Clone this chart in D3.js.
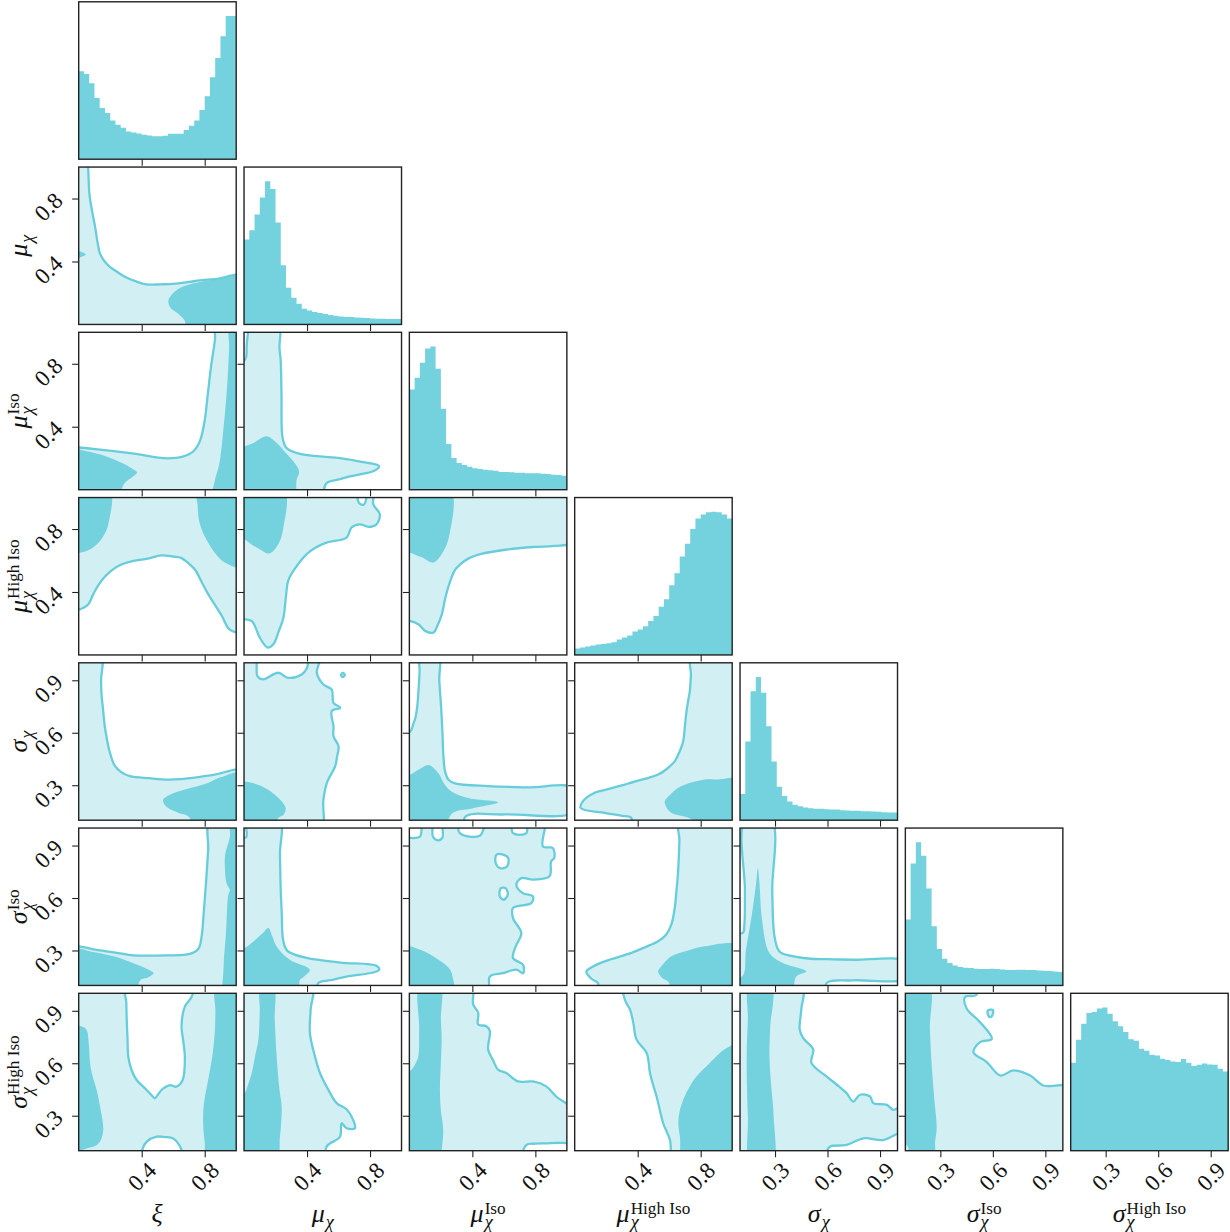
<!DOCTYPE html>
<html>
<head>
<meta charset="utf-8">
<script src="https://cdn.jsdelivr.net/npm/d3@7"></script>
<style>
  body { margin: 0; background: #fff; }
  text { font-family: "Liberation Serif", "DejaVu Serif", serif; fill: #111; }
</style>
</head>
<body>
<svg id="chart" width="1230" height="1232"></svg>
<script>
// parameters, in corner order
const labelSym = ["ξ", "μ", "μ", "μ", "σ", "σ", "σ"];
const labelSub = ["", "χ", "χ", "χ", "χ", "χ", "χ"];
const labelSup = ["", "", "Iso", "High Iso", "", "Iso", "High Iso"];
const domLo = [0, 0, 0, 0, 0.1, 0.1, 0.1];
const domHi = [1, 1, 1, 1, 1, 1, 1];
const ticksMu = [0.4, 0.8];
const ticksSig = [0.3, 0.6, 0.9];

// 1D histograms, 30 bins over each domain (relative counts)
const hXi = [263,255,227,183,153,138,116,103,94,83,80,77,73,71,69,69,70,76,76,76,87,100,116,147,188,245,303,368,428,428];
const hMu = [254,282,329,380,428,405,305,177,110,80,62,47,42,37,34,31,28,26,24,22,22,21,20,19,18,17,17,16,16,16];
const hMuIso = [300,335,380,422,428,362,242,137,95,80,74,69,64,62,60,58,57,53,53,52,51,51,49,49,49,48,47,45,44,42];
const hMuHi = [19,22,25,28,31,33,35,38,46,52,58,70,76,86,101,116,144,166,208,244,294,332,376,407,419,426,427,426,419,407];
const hSig = [78,235,385,427,380,280,175,100,72,56,46,42,38,36,34,34,33,32,32,30,29,28,28,27,27,26,25,24,23,23];
const hSigIso = [197,365,428,388,290,177,109,80,67,60,55,53,52,50,49,49,50,49,48,46,46,47,47,46,46,45,44,43,42,40];
const hSigHi = [263,332,380,412,415,425,428,410,387,372,355,333,329,305,299,287,285,275,271,267,265,274,263,253,257,261,258,257,245,237];

// 2D credible regions, rings of [x, y] in data units (light = outer level, dark = inner level)
const xiMuLight = [[[-0.05,1.05],[0.057,1.05],[0.06,1.0],[0.068,0.83],[0.085,0.72],[0.104,0.62],[0.12,0.52],[0.135,0.45],[0.165,0.40],[0.2,0.364],[0.25,0.33],[0.30,0.30],[0.36,0.275],[0.43,0.254],[0.52,0.255],[0.60,0.258],[0.70,0.27],[0.77,0.28],[0.88,0.29],[1.05,0.305],[1.05,-0.05],[-0.05,-0.05]]];
const xiMuDark = [[[1.05,0.30],[0.9,0.29],[0.75,0.265],[0.66,0.24],[0.6,0.2],[0.57,0.155],[0.58,0.11],[0.63,0.07],[0.67,0.03],[0.70,-0.05],[1.05,-0.05]],
  [[-0.02,0.47],[0.03,0.455],[0.045,0.445],[0.03,0.435],[-0.02,0.425]]];

const xiMuIsoLight = [[[-0.05,0.27],[0.0,0.268],[0.135,0.254],[0.35,0.229],[0.54,0.2],[0.66,0.21],[0.73,0.246],[0.77,0.31],[0.8,0.44],[0.82,0.61],[0.84,0.78],[0.865,0.95],[0.875,1.05],[1.05,1.05],[1.05,-0.05],[-0.05,-0.05]]];
const xiMuIsoDark = [[[-0.05,0.25],[0.05,0.245],[0.15,0.22],[0.25,0.18],[0.33,0.14],[0.37,0.11],[0.34,0.08],[0.29,0.04],[0.24,-0.05],[-0.05,-0.05]],
  [[0.96,1.05],[0.955,0.9],[0.945,0.7],[0.93,0.5],[0.92,0.4],[0.905,0.25],[0.89,0.15],[0.865,0.06],[0.855,-0.05],[1.05,-0.05],[1.05,1.05]]];

const xiMuHiLight = [[[-0.05,0.285],[0.0,0.288],[0.03,0.30],[0.06,0.32],[0.09,0.38],[0.12,0.436],[0.16,0.49],[0.2,0.53],[0.26,0.57],[0.335,0.595],[0.43,0.61],[0.525,0.633],[0.6,0.625],[0.65,0.617],[0.7,0.58],[0.74,0.54],[0.78,0.465],[0.82,0.39],[0.87,0.31],[0.91,0.246],[0.95,0.17],[0.98,0.15],[1.05,0.15],[1.05,1.05],[-0.05,1.05]]];
const xiMuHiDark = [[[-0.05,0.648],[0.0,0.648],[0.06,0.665],[0.123,0.71],[0.17,0.78],[0.19,0.84],[0.197,1.05],[-0.05,1.05]],
  [[0.754,1.05],[0.755,0.95],[0.763,0.86],[0.78,0.8],[0.8,0.754],[0.83,0.7],[0.864,0.65],[0.93,0.585],[1.05,0.56],[1.05,1.05]]];

const xiSigLight = [[[-0.05,1.05],[0.14,1.05],[0.142,0.9],[0.144,0.83],[0.155,0.73],[0.165,0.64],[0.18,0.56],[0.197,0.49],[0.23,0.41],[0.27,0.375],[0.325,0.352],[0.45,0.34],[0.568,0.332],[0.65,0.335],[0.737,0.343],[0.864,0.361],[1.05,0.38],[1.05,0.0],[-0.05,0.0]]];
const xiSigDark = [[[1.05,0.37],[0.9,0.345],[0.82,0.313],[0.674,0.275],[0.58,0.245],[0.536,0.218],[0.545,0.19],[0.568,0.17],[0.64,0.14],[0.695,0.123],[0.78,0.0],[1.05,0.0]]];

const xiSigIsoLight = [[[-0.05,0.325],[0.0,0.323],[0.135,0.3],[0.25,0.285],[0.347,0.272],[0.558,0.272],[0.706,0.28],[0.76,0.31],[0.78,0.377],[0.795,0.53],[0.808,0.683],[0.822,0.874],[0.835,1.05],[1.05,1.05],[1.05,0.0],[-0.05,0.0]]];
const xiSigIsoDark = [[[-0.05,0.305],[0.1,0.29],[0.24,0.262],[0.35,0.225],[0.43,0.196],[0.475,0.171],[0.44,0.145],[0.39,0.129],[0.347,0.0],[-0.05,0.0]],
  [[0.965,1.05],[0.96,0.95],[0.93,0.85],[0.928,0.78],[0.94,0.68],[0.96,0.645],[0.95,0.62],[0.935,0.4],[0.92,0.205],[0.928,0.0],[1.05,0.0],[1.05,1.05]]];

const xiSigHiLight = [[[-0.05,0.0],[1.05,0.0],[1.05,1.05],[-0.05,1.05]],
  [[0.30,1.03],[0.302,0.95],[0.305,0.847],[0.31,0.74],[0.315,0.637],[0.336,0.56],[0.368,0.504],[0.40,0.475],[0.431,0.447],[0.46,0.42],[0.484,0.40],[0.51,0.43],[0.537,0.456],[0.58,0.475],[0.62,0.466],[0.66,0.504],[0.674,0.637],[0.665,0.72],[0.653,0.81],[0.674,0.924],[0.717,0.98],[0.727,1.03]],
  [[0.40,0.05],[0.41,0.12],[0.431,0.151],[0.495,0.18],[0.55,0.178],[0.6,0.17],[0.64,0.13],[0.66,0.05]]];
const xiSigHiDark = [[[-0.05,0.81],[0.02,0.81],[0.05,0.79],[0.065,0.7],[0.072,0.6],[0.09,0.52],[0.114,0.447],[0.14,0.33],[0.156,0.22],[0.14,0.16],[0.11,0.13],[0.05,0.113],[0.0,0.1],[-0.05,0.1]],
  [[0.872,1.05],[0.868,0.9],[0.865,0.79],[0.85,0.65],[0.822,0.504],[0.8,0.4],[0.79,0.313],[0.792,0.22],[0.8,0.15],[0.822,0.0],[1.05,0.0],[1.05,1.05]]];

const muMuIsoLight = [[[-0.05,0.82],[0.0,0.82],[0.013,0.84],[0.017,0.92],[0.025,1.0],[0.027,1.05],[0.218,1.05],[0.225,0.9],[0.233,0.816],[0.238,0.6],[0.245,0.328],[0.27,0.265],[0.355,0.227],[0.48,0.212],[0.61,0.2],[0.73,0.18],[0.842,0.159],[0.858,0.148],[0.82,0.117],[0.75,0.1],[0.672,0.085],[0.6,0.065],[0.524,0.042],[0.48,-0.05],[-0.05,-0.05]]];
const muMuIsoDark = [[[-0.05,0.27],[0.0,0.275],[0.06,0.297],[0.144,0.339],[0.207,0.297],[0.26,0.24],[0.313,0.18],[0.35,0.117],[0.334,0.064],[0.313,-0.05],[-0.05,-0.05]]];

const muMuHiLight = [[[-0.05,0.225],[0.0,0.227],[0.049,0.216],[0.075,0.17],[0.1,0.11],[0.15,0.047],[0.186,0.068],[0.22,0.15],[0.25,0.237],[0.265,0.36],[0.28,0.47],[0.313,0.534],[0.397,0.64],[0.45,0.68],[0.524,0.714],[0.651,0.746],[0.683,0.81],[0.736,0.83],[0.79,0.814],[0.841,0.83],[0.862,0.894],[0.82,0.958],[0.816,1.05],[-0.05,1.05]],
  [[0.725,1.04],[0.73,0.965],[0.76,0.955],[0.775,0.99],[0.772,1.04]]];
const muMuHiDark = [[[-0.05,0.735],[0.0,0.735],[0.05,0.7],[0.1,0.672],[0.154,0.644],[0.186,0.66],[0.228,0.725],[0.25,0.81],[0.254,1.05],[-0.05,1.05]]];

const muSigLight = [[[-0.05,1.05],[0.078,1.05],[0.08,0.98],[0.085,0.924],[0.12,0.905],[0.217,0.943],[0.28,0.914],[0.366,0.933],[0.4,0.97],[0.419,1.05],[0.489,1.05],[0.47,0.98],[0.462,0.943],[0.504,0.876],[0.557,0.847],[0.568,0.771],[0.611,0.743],[0.557,0.724],[0.568,0.637],[0.568,0.58],[0.6,0.523],[0.59,0.46],[0.579,0.409],[0.526,0.313],[0.504,0.218],[0.479,0.0],[-0.05,0.0]],
  [[0.615,0.93],[0.628,0.942],[0.64,0.93],[0.628,0.918]]];
const muSigDark = [[[-0.05,0.325],[0.0,0.323],[0.11,0.295],[0.217,0.228],[0.264,0.17],[0.25,0.13],[0.217,0.113],[0.17,0.0],[-0.05,0.0]]];

const muSigIsoLight = [[[-0.05,0.95],[0.013,0.947],[0.02,1.05],[0.224,1.05],[0.228,0.85],[0.233,0.647],[0.24,0.5],[0.245,0.38],[0.26,0.32],[0.28,0.294],[0.397,0.257],[0.61,0.231],[0.841,0.212],[0.858,0.19],[0.82,0.174],[0.651,0.151],[0.55,0.13],[0.47,0.113],[0.465,0.0],[-0.05,0.0]]];
const muSigIsoDark = [[[-0.05,0.31],[0.0,0.313],[0.059,0.352],[0.12,0.4],[0.154,0.428],[0.18,0.38],[0.207,0.323],[0.29,0.247],[0.418,0.19],[0.38,0.15],[0.355,0.132],[0.334,0.0],[-0.05,0.0]]];

const muSigHiLight = [[[-0.05,1.05],[0.43,1.05],[0.423,0.908],[0.418,0.774],[0.45,0.64],[0.482,0.544],[0.535,0.449],[0.588,0.372],[0.651,0.337],[0.693,0.276],[0.704,0.228],[0.651,0.228],[0.62,0.257],[0.609,0.18],[0.524,0.123],[0.503,0.0],[-0.05,0.0]]];
const muSigHiDark = [[[-0.05,0.43],[0.0,0.429],[0.03,0.49],[0.049,0.544],[0.07,0.64],[0.091,0.735],[0.1,0.9],[0.106,1.05],[0.186,1.05],[0.195,0.85],[0.207,0.64],[0.225,0.45],[0.239,0.353],[0.235,0.25],[0.228,0.18],[0.197,0.0],[-0.05,0.0]]];

const muIsoMuHiLight = [[[-0.05,0.215],[0.0,0.216],[0.057,0.195],[0.1,0.153],[0.153,0.142],[0.18,0.19],[0.206,0.258],[0.23,0.37],[0.26,0.47],[0.29,0.54],[0.323,0.576],[0.38,0.615],[0.45,0.64],[0.62,0.67],[0.79,0.686],[0.919,0.693],[1.05,0.72],[1.05,1.05],[-0.05,1.05]]];
const muIsoMuHiDark = [[[-0.05,0.65],[0.0,0.65],[0.079,0.62],[0.153,0.587],[0.217,0.66],[0.255,0.767],[0.26,1.05],[-0.05,1.05]]];

const muIsoSigLight = [[[-0.05,0.6],[0.006,0.607],[0.025,0.65],[0.038,0.684],[0.05,0.75],[0.059,0.856],[0.065,0.95],[0.07,1.05],[0.185,1.05],[0.19,0.9],[0.202,0.742],[0.21,0.6],[0.217,0.455],[0.227,0.378],[0.25,0.33],[0.29,0.311],[0.5,0.295],[0.75,0.288],[1.05,0.282],[1.05,0.148],[0.606,0.133],[0.354,0.119],[0.35,0.0],[-0.05,0.0]]];
const muIsoSigDark = [[[-0.05,0.355],[0.0,0.358],[0.06,0.39],[0.122,0.416],[0.185,0.368],[0.22,0.31],[0.27,0.263],[0.38,0.225],[0.564,0.202],[0.4,0.167],[0.27,0.138],[0.206,0.0],[-0.05,0.0]]];

const muIsoSigIsoLight = [[[-0.05,0.94],[0.025,0.943],[0.068,0.952],[0.089,1.05],[0.141,1.05],[0.15,0.95],[0.18,0.93],[0.21,0.945],[0.215,1.05],[0.3,1.05],[0.32,0.971],[0.447,0.956],[0.5,1.05],[0.637,1.05],[0.658,0.971],[0.743,0.971],[0.753,1.05],[0.859,1.05],[0.848,0.895],[0.911,0.886],[0.92,0.829],[0.9,0.809],[0.89,0.724],[0.785,0.705],[0.711,0.714],[0.679,0.676],[0.72,0.628],[0.785,0.609],[0.774,0.571],[0.658,0.543],[0.658,0.485],[0.711,0.4],[0.675,0.323],[0.658,0.257],[0.722,0.218],[0.722,0.17],[0.679,0.19],[0.595,0.17],[0.511,0.151],[0.5,0.0],[-0.05,0.0]],
  [[0.553,0.847],[0.548,0.8],[0.575,0.771],[0.62,0.78],[0.627,0.83],[0.59,0.85]],
  [[0.58,0.655],[0.574,0.61],[0.6,0.59],[0.625,0.62],[0.61,0.657]]];
const muIsoSigIsoDark = [[[-0.05,0.33],[0.0,0.326],[0.1,0.292],[0.206,0.234],[0.25,0.2],[0.27,0.167],[0.272,0.0],[-0.05,0.0]]];

const muIsoSigHiLight = [[[-0.05,1.05],[0.395,1.05],[0.405,0.937],[0.437,0.889],[0.437,0.822],[0.489,0.812],[0.511,0.784],[0.5,0.679],[0.53,0.62],[0.563,0.564],[0.616,0.544],[0.69,0.496],[0.785,0.496],[0.869,0.468],[0.932,0.41],[1.05,0.32],[1.05,0.0],[-0.05,0.0]],
  [[0.72,0.05],[0.743,0.133],[0.8,0.14],[0.869,0.142],[0.95,0.145],[1.04,0.133],[1.04,0.05]]];
const muIsoSigHiDark = [[[-0.05,0.55],[0.0,0.555],[0.015,0.564],[0.04,0.6],[0.057,0.64],[0.062,0.8],[0.068,1.05],[0.194,1.05],[0.2,0.85],[0.205,0.735],[0.2,0.6],[0.194,0.449],[0.2,0.33],[0.215,0.219],[0.205,0.1],[0.194,0.0],[-0.05,0.0]]];

const muHiSigLight = [[[0.742,1.05],[0.738,0.93],[0.731,0.838],[0.72,0.78],[0.71,0.724],[0.7,0.64],[0.689,0.552],[0.66,0.48],[0.636,0.438],[0.58,0.39],[0.53,0.361],[0.42,0.33],[0.318,0.304],[0.2,0.275],[0.127,0.257],[0.053,0.209],[0.038,0.17],[0.19,0.142],[0.3,0.125],[0.36,0.113],[0.364,0.0],[1.05,0.0],[1.05,1.05]]];
const muHiSigDark = [[[1.05,0.33],[0.9,0.333],[0.826,0.333],[0.72,0.31],[0.657,0.285],[0.6,0.24],[0.572,0.209],[0.585,0.17],[0.614,0.142],[0.742,0.105],[0.9,0.0],[1.05,0.0]]];

const muHiSigIsoLight = [[[0.667,1.05],[0.665,0.93],[0.661,0.832],[0.655,0.73],[0.646,0.64],[0.635,0.54],[0.614,0.449],[0.58,0.39],[0.53,0.353],[0.45,0.32],[0.36,0.286],[0.19,0.238],[0.1,0.2],[0.074,0.18],[0.106,0.138],[0.148,0.113],[0.159,0.0],[1.05,0.0],[1.05,1.05]]];
const muHiSigIsoDark = [[[1.05,0.325],[0.826,0.324],[0.72,0.3],[0.614,0.267],[0.56,0.22],[0.53,0.18],[0.56,0.14],[0.593,0.123],[0.657,0.0],[1.05,0.0]]];

const muHiSigHiLight = [[[0.313,1.05],[0.32,0.96],[0.351,0.908],[0.372,0.832],[0.393,0.735],[0.457,0.659],[0.478,0.544],[0.5,0.47],[0.52,0.41],[0.562,0.257],[0.605,0.161],[0.636,0.0],[1.05,0.0],[1.05,1.05]]];
const muHiSigHiDark = [[[1.05,0.71],[0.97,0.69],[0.922,0.659],[0.858,0.602],[0.774,0.525],[0.72,0.45],[0.689,0.391],[0.665,0.32],[0.658,0.257],[0.668,0.18],[0.7,0.0],[1.05,0.0]]];

const sigSigIsoLight = [[[0.0,0.4],[0.115,0.4],[0.125,0.45],[0.128,0.647],[0.131,1.05],[0.278,1.05],[0.284,0.647],[0.29,0.45],[0.297,0.38],[0.315,0.31],[0.336,0.285],[0.46,0.257],[0.6,0.25],[0.747,0.247],[1.05,0.236],[1.05,0.142],[0.747,0.129],[0.594,0.113],[0.59,0.0],[0.0,0.0]]];
const sigSigIsoDark = [[[0.0,0.15],[0.112,0.151],[0.134,0.304],[0.169,0.514],[0.192,0.685],[0.202,0.771],[0.211,0.685],[0.226,0.475],[0.268,0.285],[0.345,0.228],[0.479,0.18],[0.421,0.151],[0.384,0.0],[0.0,0.0]]];

const sigSigHiLight = [[[0.0,1.05],[0.454,1.05],[0.45,0.908],[0.441,0.793],[0.46,0.745],[0.518,0.679],[0.508,0.602],[0.594,0.525],[0.65,0.48],[0.709,0.429],[0.747,0.381],[0.786,0.42],[0.843,0.41],[0.862,0.372],[0.939,0.362],[0.977,0.334],[1.05,0.36],[1.05,0.0],[0.0,0.0]],
  [[0.594,0.05],[0.594,0.09],[0.613,0.123],[0.709,0.133],[0.805,0.171],[0.919,0.161],[1.04,0.205],[1.04,0.05]]];
const sigSigHiDark = [[[0.154,1.05],[0.278,1.05],[0.272,0.8],[0.268,0.64],[0.28,0.45],[0.292,0.3],[0.284,0.0],[0.163,0.0],[0.145,0.3],[0.138,0.64],[0.145,0.85]]];

const sigIsoSigHiLight = [[[0.0,1.05],[0.508,1.05],[0.505,0.99],[0.441,0.979],[0.451,0.912],[0.527,0.835],[0.594,0.74],[0.527,0.721],[0.489,0.663],[0.565,0.607],[0.642,0.53],[0.717,0.559],[0.813,0.53],[0.889,0.473],[1.05,0.46],[1.05,0.0],[0.0,0.0]],
  [[0.57,0.9],[0.6,0.905],[0.595,0.87],[0.58,0.865]]];
const sigIsoSigHiDark = [[[0.0,1.05],[0.232,1.05],[0.24,0.8],[0.25,0.6],[0.265,0.4],[0.279,0.23],[0.27,0.15],[0.26,0.0],[0.127,0.0],[0.11,0.13],[0.0,0.13]]];

// ---- tables built from the arrays above ----
const hists = [hXi, hMu, hMuIso, hMuHi, hSig, hSigIso, hSigHi];
const tickSets = [ticksMu, ticksMu, ticksMu, ticksMu, ticksSig, ticksSig, ticksSig];
// [row (y param), col (x param), light, dark]
const panels = [
  [1, 0, xiMuLight, xiMuDark],
  [2, 0, xiMuIsoLight, xiMuIsoDark],
  [3, 0, xiMuHiLight, xiMuHiDark],
  [4, 0, xiSigLight, xiSigDark],
  [5, 0, xiSigIsoLight, xiSigIsoDark],
  [6, 0, xiSigHiLight, xiSigHiDark],
  [2, 1, muMuIsoLight, muMuIsoDark],
  [3, 1, muMuHiLight, muMuHiDark],
  [4, 1, muSigLight, muSigDark],
  [5, 1, muSigIsoLight, muSigIsoDark],
  [6, 1, muSigHiLight, muSigHiDark],
  [3, 2, muIsoMuHiLight, muIsoMuHiDark],
  [4, 2, muIsoSigLight, muIsoSigDark],
  [5, 2, muIsoSigIsoLight, muIsoSigIsoDark],
  [6, 2, muIsoSigHiLight, muIsoSigHiDark],
  [4, 3, muHiSigLight, muHiSigDark],
  [5, 3, muHiSigIsoLight, muHiSigIsoDark],
  [6, 3, muHiSigHiLight, muHiSigHiDark],
  [5, 4, sigSigIsoLight, sigSigIsoDark],
  [6, 4, sigSigHiLight, sigSigHiDark],
  [6, 5, sigIsoSigHiLight, sigIsoSigHiDark]
];

const colDark = "#74d1de";
const colLight = "#d2eff3";
const colLine = "#68cddb";
const colAxis = "#222";

// grid layout
const nP = 7;
const left0 = 78.7, top0 = 1.8, stepX = 165.33, stepY = 165.25;
const panelW = 157.5, panelH = 157.4;

const svg = d3.select("#chart");
const defs = svg.append("defs");

const xS = d3.range(nP).map(i => d3.scaleLinear()
  .domain([domLo[i], domHi[i]])
  .range([left0 + i * stepX, left0 + i * stepX + panelW]));
const yS = d3.range(nP).map(i => d3.scaleLinear()
  .domain([domLo[i], domHi[i]])
  .range([top0 + i * stepY + panelH, top0 + i * stepY]));

const fmt = d3.format(".1f");
const tickFont = 23;

function clipFor(r, c) {
  const id = `clip-${r}-${c}`;
  defs.append("clipPath").attr("id", id)
    .append("rect")
    .attr("x", xS[c].range()[0]).attr("y", yS[r].range()[1])
    .attr("width", panelW).attr("height", panelH);
  return `url(#${id})`;
}

function ringsPath(rings, xs, ys) {
  const ln = d3.line()
    .x(p => xs(p[0]))
    .y(p => ys(p[1]))
    .curve(d3.curveCatmullRomClosed.alpha(0.5));
  return rings.map(ring => ln(ring)).join("");
}

function styleTickText(sel, transform) {
  sel.attr("x", null).attr("y", null).attr("dy", null)
    .attr("text-anchor", "middle")
    .attr("dominant-baseline", "central")
    .attr("font-family", "Liberation Serif, DejaVu Serif, serif")
    .attr("font-size", tickFont)
    .attr("fill", "#111")
    .attr("transform", transform);
}

function drawAxes(r, c, isDiag) {
  const bottom = yS[r].range()[0];
  const left = xS[c].range()[0];

  const ax = svg.append("g")
    .attr("transform", `translate(0,${bottom})`)
    .call(d3.axisBottom(xS[c]).tickValues(tickSets[c]).tickSize(6.5).tickSizeOuter(0)
      .tickFormat(r === nP - 1 ? fmt : ""));
  ax.select(".domain").remove();
  ax.selectAll(".tick line").attr("stroke", colAxis).attr("stroke-width", 1.1);
  styleTickText(ax.selectAll(".tick text"), "translate(0,26) rotate(-45)");

  if (!isDiag) {
    const ay = svg.append("g")
      .attr("transform", `translate(${left},0)`)
      .call(d3.axisLeft(yS[r]).tickValues(tickSets[r]).tickSize(6.5).tickSizeOuter(0)
        .tickFormat(c === 0 ? fmt : ""));
    ay.select(".domain").remove();
    ay.selectAll(".tick line").attr("stroke", colAxis).attr("stroke-width", 1.1);
    styleTickText(ay.selectAll(".tick text"), "translate(-30,8) rotate(-45)");
  }

  svg.append("rect")
    .attr("x", left).attr("y", yS[r].range()[1])
    .attr("width", panelW).attr("height", panelH)
    .attr("fill", "none").attr("stroke", colAxis).attr("stroke-width", 1.4);
}

// diagonal histograms
hists.forEach((h, i) => {
  const lo = domLo[i], hi = domHi[i];
  const bottom = yS[i].range()[0], top = yS[i].range()[1];
  const yH = d3.scaleLinear().domain([0, 1.1 * d3.max(h)]).range([bottom, top]);
  const bins = h.map((v, k) => ({ x: lo + k * (hi - lo) / h.length, v }));
  bins.push({ x: hi, v: h[h.length - 1] });
  const area = d3.area()
    .curve(d3.curveStepAfter)
    .x(d => xS[i](d.x))
    .y0(yH(0))
    .y1(d => yH(d.v));
  svg.append("path")
    .attr("clip-path", clipFor(i, i))
    .attr("d", area(bins))
    .attr("fill", colDark);
  drawAxes(i, i, true);
});

// off-diagonal 2D regions
panels.forEach(([r, c, light, dark]) => {
  const g = svg.append("g").attr("clip-path", clipFor(r, c));
  const lightD = ringsPath(light, xS[c], yS[r]);
  g.append("path").attr("d", lightD)
    .attr("fill", colLight).attr("fill-rule", "evenodd");
  g.append("path").attr("d", ringsPath(dark, xS[c], yS[r]))
    .attr("fill", colDark).attr("fill-rule", "evenodd");
  g.append("path").attr("d", lightD)
    .attr("fill", "none").attr("stroke", colLine).attr("stroke-width", 2.3);
  drawAxes(r, c, false);
});

// axis labels: one text element, sub and superscript stacked after the symbol
function mathLabel(parent, i, size) {
  const t = parent.append("text");
  t.append("tspan")
    .attr("x", 0).attr("y", 0)
    .attr("font-style", "italic").attr("font-size", size)
    .text(labelSym[i]);
  const mw = t.node().getComputedTextLength();
  let ew = 0;
  if (labelSub[i]) {
    const s = t.append("tspan")
      .attr("x", mw + 1).attr("y", size * 0.22)
      .attr("font-style", "italic").attr("font-size", size * 0.7)
      .text(labelSub[i]);
    ew = Math.max(ew, s.node().getComputedTextLength());
  }
  if (labelSup[i]) {
    const s = t.append("tspan")
      .attr("x", mw + 1).attr("y", -size * 0.30)
      .attr("font-size", size * 0.66)
      .text(labelSup[i]);
    ew = Math.max(ew, s.node().getComputedTextLength());
  }
  t.attr("transform", `translate(${-(mw + 1 + ew) / 2},0)`);
}

const labelSize = 26;
d3.range(nP).forEach(i => {
  const cx = xS[i].range()[0] + panelW / 2;
  mathLabel(svg.append("g").attr("transform", `translate(${cx},1222)`), i, labelSize);
});
d3.range(1, nP).forEach(i => {
  const cy = yS[i].range()[1] + panelH / 2;
  mathLabel(svg.append("g").attr("transform", `translate(27,${cy}) rotate(-90)`), i, labelSize);
});
</script>
</body>
</html>
